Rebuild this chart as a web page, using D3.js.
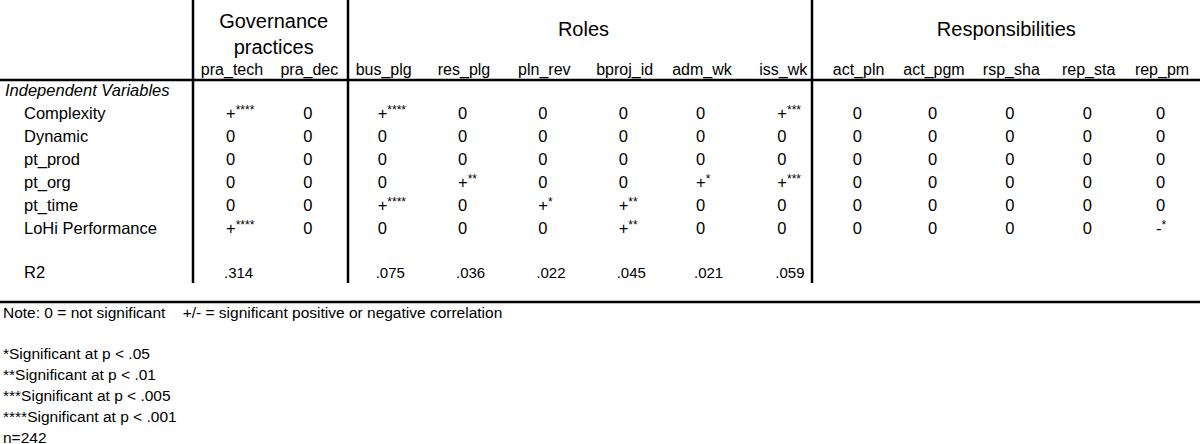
<!DOCTYPE html>
<html><head><meta charset="utf-8">
<script src="https://cdn.jsdelivr.net/npm/d3@7"></script>
<style>body{margin:0;background:#fff}svg{display:block}text{font-family:"Liberation Sans",Arial,sans-serif;fill:#000}</style>
</head><body><svg id="c" width="1200" height="444"></svg>
<script>
const columns=["pra_tech","pra_dec","bus_plg","res_plg","pln_rev","bproj_id","adm_wk","iss_wk","act_pln","act_pgm","rsp_sha","rep_sta","rep_pm"];
const groups=[{name:["Governance","practices"],from:0,to:1},{name:["Roles"],from:2,to:7},{name:["Responsibilities"],from:8,to:12}];
const rowLabels=["Complexity","Dynamic","pt_prod","pt_org","pt_time","LoHi Performance"];
const cells=[
["+****","0","+****","0","0","0","0","+***","0","0","0","0","0"],
["0","0","0","0","0","0","0","0","0","0","0","0","0"],
["0","0","0","0","0","0","0","0","0","0","0","0","0"],
["0","0","0","+**","0","0","+*","+***","0","0","0","0","0"],
["0","0","+****","0","+*","+**","0","0","0","0","0","0","0"],
["+****","0","0","0","0","+**","0","0","0","0","0","0","-*"]];
const r2=[".314","",".075",".036",".022",".045",".021",".059","","","","",""];
const notes=["Note: 0 = not significant    +/- = significant positive or negative correlation","","*Significant at p < .05","**Significant at p < .01","***Significant at p < .005","****Significant at p < .001","n=242"];

const svg=d3.select("#c");
const x=d3.scalePoint().domain(columns).range([232,1160]);
const offs=[0,0,-3,0,3,6,6,10,8,6,6,6,2];
const cx=c=>x(c)+offs[columns.indexOf(c)];
const y=d3.scaleLinear().domain([0,5]).range([113,228]);
[193,348,812].forEach(v=>svg.append("line").attr("x1",v).attr("x2",v).attr("y1",0).attr("y2",283).attr("stroke","#000").attr("stroke-width",2.5));
[80,302].forEach(v=>svg.append("line").attr("x1",0).attr("x2",1200).attr("y1",v).attr("y2",v).attr("stroke","#000").attr("stroke-width",2.5));
groups.forEach(g=>{const m=(cx(columns[g.from])+cx(columns[g.to]))/2;
 const t=svg.append("text").attr("text-anchor","middle").attr("font-size",20);
 if(g.name.length===2){t.append("tspan").attr("x",m+3).attr("y",28).text(g.name[0]);t.append("tspan").attr("x",m+3).attr("y",54).text(g.name[1]);}
 else t.attr("x",m+(g.from===2?0:-4)).attr("y",36).text(g.name[0]);});
svg.selectAll(".ch").data(columns).join("text").attr("x",cx).attr("y",75).attr("text-anchor","middle").attr("font-size",16).text(d=>d);
svg.append("text").attr("x",5).attr("y",96).attr("font-size",16.5).attr("font-style","italic").text("Independent Variables");
svg.selectAll(".rl").data(rowLabels).join("text").attr("x",24).attr("y",(d,i)=>y(i)+6).attr("font-size",16.5).text(d=>d);
cells.forEach((row,i)=>row.forEach((v,j)=>{
 const t=svg.append("text").attr("x",cx(columns[j])-6).attr("y",y(i)+6).attr("font-size",16.5);
 t.append("tspan").text(v[0]);
 if(v.length>1)t.append("tspan").attr("dy",-5).attr("font-size",12).text(v.slice(1));
}));
svg.append("text").attr("x",24).attr("y",278).attr("font-size",16.5).text("R2");
r2.forEach((v,j)=>{if(v)svg.append("text").attr("x",cx(columns[j])-8).attr("y",278).attr("font-family","Liberation Serif,serif").attr("font-size",15).text(v);});
notes.forEach((n,i)=>{if(n)svg.append("text").attr("x",3).attr("y",i===0?318:359+(i-2)*21).attr("font-size",15.5).style("white-space","pre").text(n);});
</script></body></html>
